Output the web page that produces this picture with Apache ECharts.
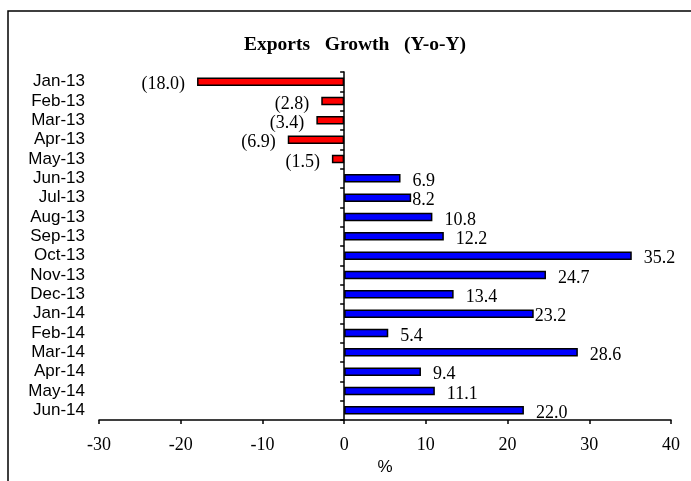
<!DOCTYPE html>
<html><head><meta charset="utf-8">
<script src="https://cdn.jsdelivr.net/npm/echarts@6/dist/echarts.min.js"></script>
<style>html,body{margin:0;padding:0;background:#fff}#c{width:691px;height:481px}</style>
</head><body><div id="c"></div>
<script>
const categories = ['Jan-13','Feb-13','Mar-13','Apr-13','May-13','Jun-13','Jul-13','Aug-13','Sep-13','Oct-13','Nov-13','Dec-13','Jan-14','Feb-14','Mar-14','Apr-14','May-14','Jun-14'];
const growth = [-18.0,-2.8,-3.4,-6.9,-1.5,6.9,8.2,10.8,12.2,35.2,24.7,13.4,23.2,5.4,28.6,9.4,11.1,22.0];
const xTickValues = [-30,-20,-10,0,10,20,30,40];
const titleText = 'Exports\u00a0\u00a0\u00a0Growth\u00a0\u00a0\u00a0(Y-o-Y)';
const axisName = '%';
const tightLabels = ['Jul-13','Jan-14'];

const chart = echarts.init(document.getElementById('c'));
const serif = 'Liberation Serif, Times New Roman, serif';
const sans = 'Liberation Sans, Arial, sans-serif';

const barData = growth.map((v, i) => ({
  value: v,
  itemStyle: { color: v < 0 ? '#ff0000' : '#0000ff' },
  label: {
    position: v < 0 ? 'left' : 'right',
    distance: tightLabels.includes(categories[i]) ? 1 : 12
  }
}));

chart.setOption({
  animation: false,
  backgroundColor: '#fff',
  graphic: [{
    type: 'rect', silent: true,
    shape: { x: 8, y: 11, width: 720, height: 520 },
    style: { fill: 'none', stroke: '#000', lineWidth: 1.5 }
  }],
  title: {
    text: titleText,
    left: 239, top: 30,
    textStyle: { fontFamily: serif, fontWeight: 'bold', fontSize: 19.5, color: '#000' }
  },
  grid: { left: 99, right: 20, top: 72, bottom: 61, containLabel: false, outerBoundsMode: 'none' },
  xAxis: {
    type: 'value',
    min: xTickValues[0], max: xTickValues[xTickValues.length - 1], interval: 10,
    name: axisName, nameLocation: 'middle', nameGap: 34,
    nameTextStyle: { fontFamily: sans, fontSize: 17, color: '#000' },
    axisLine: { show: true, lineStyle: { color: '#000', width: 1.5 } },
    axisTick: { show: true, length: 4, lineStyle: { color: '#000', width: 1.5 } },
    axisLabel: { fontFamily: serif, fontSize: 18, color: '#000', margin: 16 },
    splitLine: { show: false }
  },
  yAxis: {
    type: 'category', data: categories, inverse: true,
    axisLine: { show: true, onZero: true, lineStyle: { color: '#000', width: 1.5 } },
    axisTick: { show: true, length: 4, lineStyle: { color: '#000', width: 1.5 } },
    axisLabel: { fontFamily: sans, fontSize: 17, color: '#000', margin: 14, interval: 0 },
    splitLine: { show: false }
  },
  series: [{
    type: 'bar',
    data: barData,
    barWidth: 8.5,
    itemStyle: { borderColor: '#000', borderWidth: 1.5 },
    label: {
      show: true,
      fontFamily: serif, fontSize: 18, color: '#000',
      offset: [0, 3],
      formatter: p => p.value < 0 ? '(' + Math.abs(p.value).toFixed(1) + ')' : p.value.toFixed(1)
    }
  }]
});
</script></body></html>
